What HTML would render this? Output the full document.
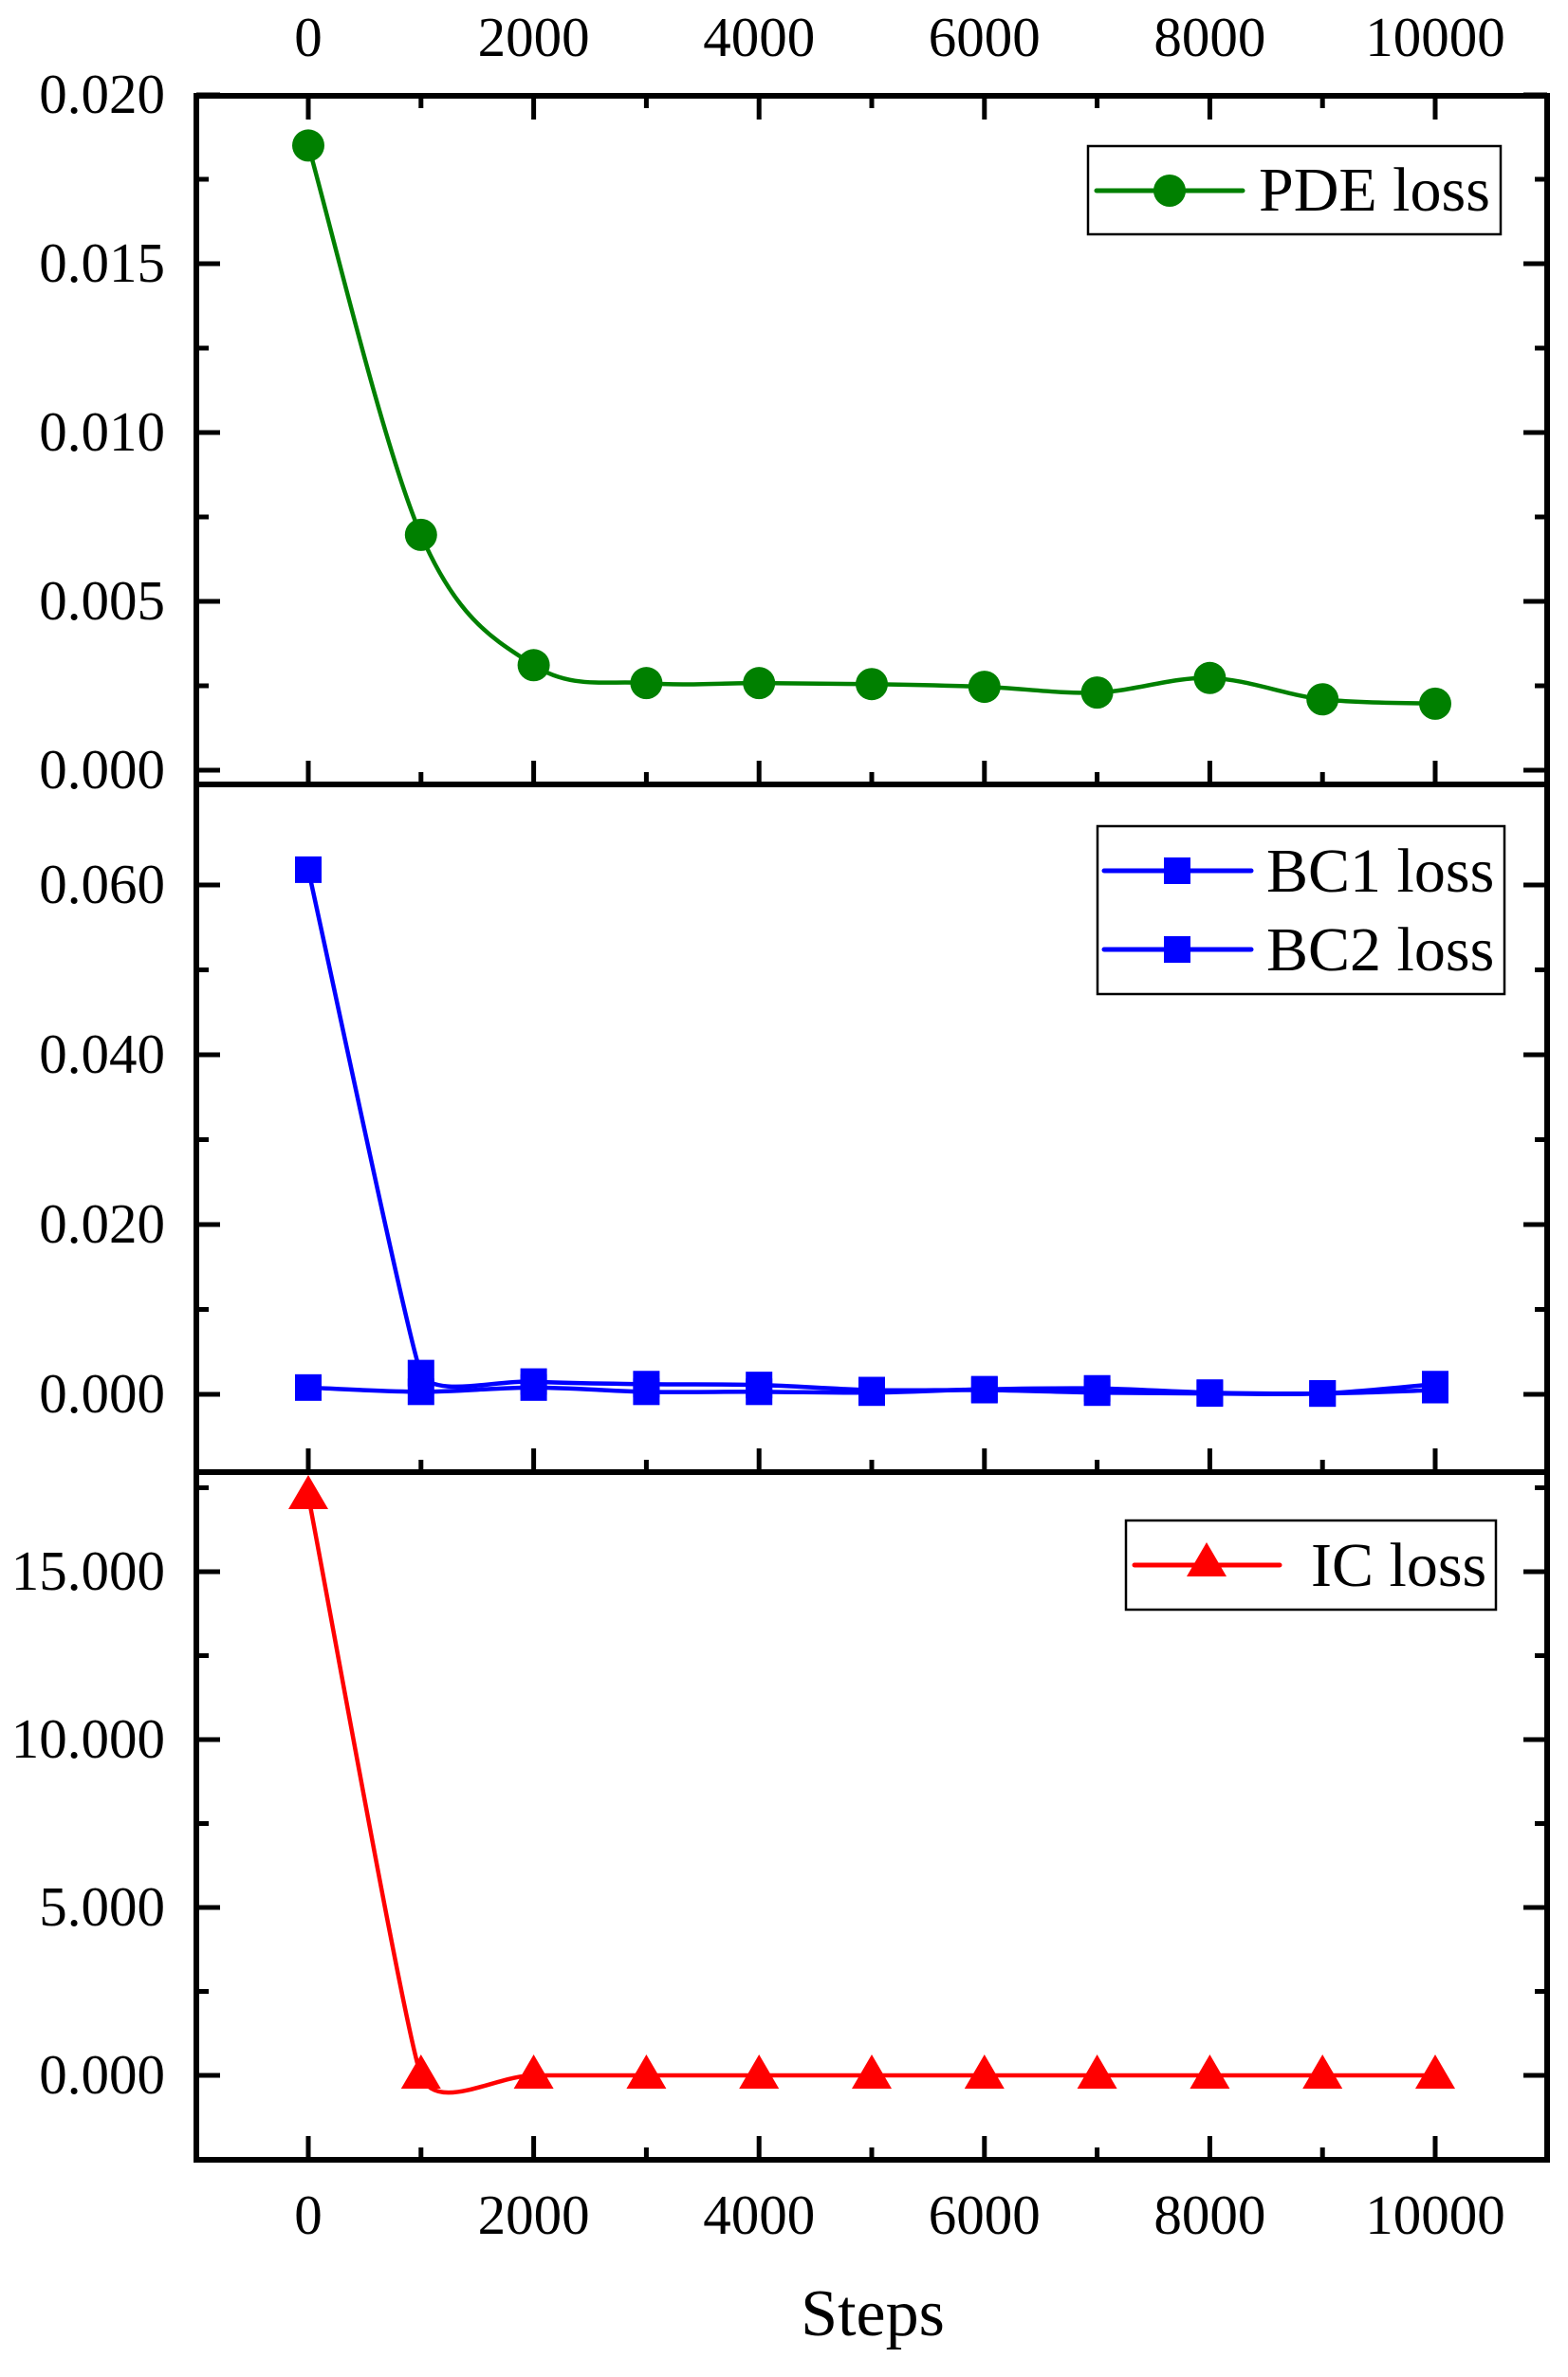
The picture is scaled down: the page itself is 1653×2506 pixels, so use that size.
<!DOCTYPE html>
<html><head><meta charset="utf-8"><style>
html,body{margin:0;padding:0;background:#fff;}
svg{display:block;}
text{font-family:"Liberation Serif",serif;fill:#000;}
</style></head><body>
<svg id="s" width="1653" height="2506" viewBox="0 0 1653 2506" xmlns="http://www.w3.org/2000/svg"></svg>
<script>
const S=document.getElementById('s');let h='';
const L=207,R=1631;
const X=v=>325+v*0.1188;
const xs=[0,1000,2000,3000,4000,5000,6000,7000,8000,9000,10000];
function spline(pts,damp){damp=damp||{};let d='M'+pts[0][0]+','+pts[0][1];
 const tan=i=>{const p0=pts[i-1]||pts[i],p2=pts[i+1]||pts[i];const f=(damp[i]!==undefined?damp[i]:1)/6;return[(p2[0]-p0[0])*f,(p2[1]-p0[1])*f];};
 for(let i=0;i<pts.length-1;i++){const p1=pts[i],p2=pts[i+1];const t1=tan(i),t2=tan(i+1);
 d+=` C${p1[0]+t1[0]},${p1[1]+t1[1]} ${p2[0]-t2[0]},${p2[1]-t2[1]} ${p2[0]},${p2[1]}`;}return d;}
const panels=[
 {t:101,b:827,z:812,k:178/0.005,maj:[0,0.005,0.01,0.015,0.02],min:[0.0025,0.0075,0.0125,0.0175],f:v=>v.toFixed(3),topTicks:true},
 {t:827,b:1552,z:1470,k:179/0.02,maj:[0,0.02,0.04,0.06],min:[0.01,0.03,0.05],f:v=>v.toFixed(3)},
 {t:1552,b:2277,z:2188,k:177/5,maj:[0,5,10,15],min:[2.5,7.5,12.5,17.5],f:v=>v.toFixed(3)}
];
panels.forEach(p=>{
 const Y=v=>p.z-v*p.k;
 p.maj.forEach(v=>{const y=Y(v);h+=`<line x1="${L}" y1="${y}" x2="${L+25}" y2="${y}" stroke="#000" stroke-width="5"/><line x1="${R-25}" y1="${y}" x2="${R}" y2="${y}" stroke="#000" stroke-width="5"/><text x="174" y="${y+19}" font-size="59" text-anchor="end">${p.f(v)}</text>`;});
 p.min.forEach(v=>{const y=Y(v);if(y>p.t+3&&y<p.b-3)h+=`<line x1="${L}" y1="${y}" x2="${L+13}" y2="${y}" stroke="#000" stroke-width="5"/><line x1="${R-13}" y1="${y}" x2="${R}" y2="${y}" stroke="#000" stroke-width="5"/>`;});
 xs.forEach(v=>{const len=v%2000==0?25:13;h+=`<line x1="${X(v)}" y1="${p.b}" x2="${X(v)}" y2="${p.b-len}" stroke="#000" stroke-width="5"/>`;
  if(p.topTicks)h+=`<line x1="${X(v)}" y1="${p.t}" x2="${X(v)}" y2="${p.t+len}" stroke="#000" stroke-width="5"/>`;});
 p.Y=Y;
});
const pde=[0.0185,0.00697,0.00311,0.00258,0.00258,0.00255,0.00247,0.0023,0.00273,0.0021,0.00197];
const bc1=[0.0618,0.0025,0.0015,0.0012,0.0011,0.0005,0.0005,0.0002,0.0001,0.0001,0.0012];
const bc2=[0.0008,0.0003,0.0008,0.0003,0.0003,0.0002,0.0006,0.0007,0.0002,0.0001,0.0005];
const ic=[17.26,0,0,0,0,0,0,0,0,0,0];
function series(vals,P,col,mk,damp){const pts=vals.map((v,i)=>[X(xs[i]),P.Y(v)]);
 h+=`<path d="${spline(pts,damp)}" fill="none" stroke="${col}" stroke-width="4.5"/>`;
 pts.forEach(q=>h+=mk(q[0],q[1],col));}
const circ=(x,y,c)=>`<circle cx="${x}" cy="${y}" r="17" fill="${c}"/>`;
const sq=(x,y,c)=>`<rect x="${x-14}" y="${y-14}" width="28" height="28" fill="${c}"/>`;
const tri=(x,y,c)=>`<polygon points="${x},${y-22} ${x+21},${y+14} ${x-21},${y+14}" fill="${c}"/>`;
series(pde,panels[0],'#008000',circ);
series(bc2,panels[1],'#0000ff',sq);
series(bc1,panels[1],'#0000ff',sq,{1:0.3});
series(ic,panels[2],'#ff0000',tri,{1:0.4});
h+=`<rect x="${L}" y="101" width="${R-L}" height="${2277-101}" fill="none" stroke="#000" stroke-width="6"/>`;
h+=`<line x1="${L}" y1="827" x2="${R}" y2="827" stroke="#000" stroke-width="6"/><line x1="${L}" y1="1552" x2="${R}" y2="1552" stroke="#000" stroke-width="6"/>`;
xs.filter(v=>v%2000==0).forEach(v=>{h+=`<text x="${X(v)}" y="59" font-size="59" text-anchor="middle">${v}</text><text x="${X(v)}" y="2355" font-size="59" text-anchor="middle">${v}</text>`;});
h+=`<text x="920" y="2462" font-size="70" text-anchor="middle">Steps</text>`;
h+=`<rect x="1147" y="154" width="435" height="93" fill="#fff" stroke="#000" stroke-width="2.5"/>
<line x1="1156" y1="201" x2="1310" y2="201" stroke="#008000" stroke-width="5" stroke-linecap="round"/>${circ(1233,201,'#008000')}
<text x="1327" y="222" font-size="66">PDE loss</text>`;
h+=`<rect x="1157" y="871" width="429" height="177" fill="#fff" stroke="#000" stroke-width="2.5"/>
<line x1="1164" y1="918" x2="1319" y2="918" stroke="#0000ff" stroke-width="5" stroke-linecap="round"/>${sq(1241,918,'#0000ff')}
<line x1="1164" y1="1001" x2="1319" y2="1001" stroke="#0000ff" stroke-width="5" stroke-linecap="round"/>${sq(1241,1001,'#0000ff')}
<text x="1335" y="940" font-size="66">BC1 loss</text><text x="1335" y="1023" font-size="66">BC2 loss</text>`;
h+=`<rect x="1187" y="1603" width="390" height="94" fill="#fff" stroke="#000" stroke-width="2.5"/>
<line x1="1196" y1="1650" x2="1349" y2="1650" stroke="#ff0000" stroke-width="5" stroke-linecap="round"/>${tri(1272,1648,'#ff0000')}
<text x="1382" y="1672" font-size="66">IC loss</text>`;
S.innerHTML=h;
</script>
</body></html>
